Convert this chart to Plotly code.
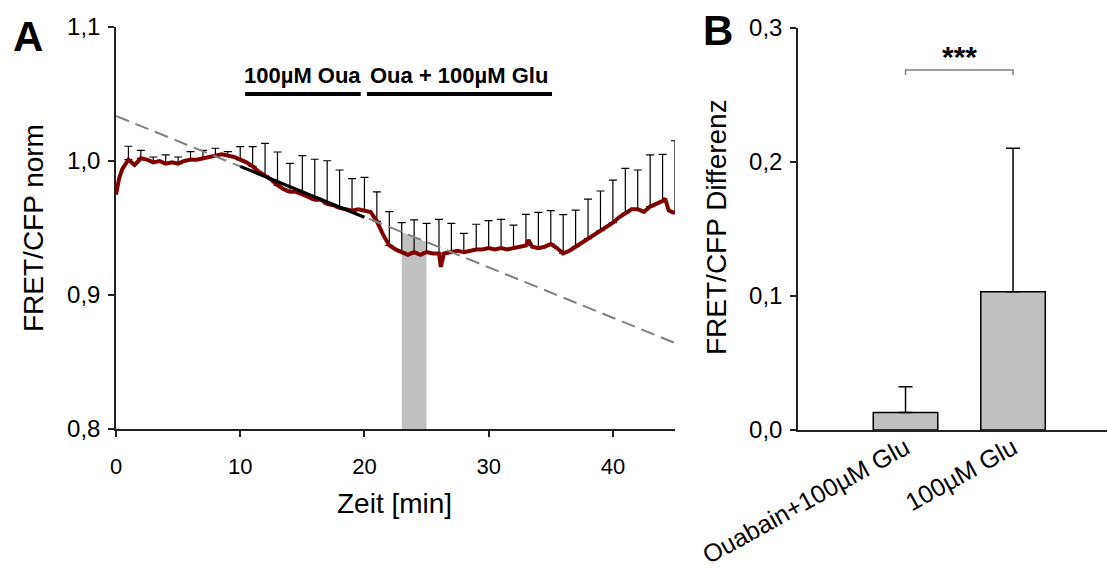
import numpy as np
import plotly.graph_objects as go

# ---------------- Panel A data ----------------
time_min = [0, 0.25, 0.5, 1, 1.5, 2, 2.5, 3, 3.5, 4, 4.5, 5, 5.5, 6, 6.5, 7, 7.5, 8, 8.5, 9, 9.5,
            10, 10.5, 11, 11.5, 12, 12.5, 13, 13.5, 14, 14.5, 15, 15.5, 16, 16.5, 17, 17.5, 18,
            18.5, 19, 19.5, 20, 20.5, 21, 21.5, 22, 22.5, 23, 23.5, 24, 24.5, 25, 25.5, 26,
            26.15, 26.4, 27, 27.5, 28, 28.5, 29, 29.5, 30, 30.5, 31, 31.5, 32, 32.5, 33, 33.2,
            33.5, 34, 34.5, 35, 35.5, 36, 36.5, 37, 37.5, 38, 38.5, 39, 39.5, 40, 40.5, 41,
            41.5, 42, 42.5, 43, 43.5, 44, 44.2, 44.5, 45]
fret_norm = [0.975, 0.987, 0.994, 1.001, 0.997, 1.002, 1.001, 0.999, 1.000, 0.998, 0.999, 0.998,
             1.000, 1.001, 1.001, 1.002, 1.003, 1.004, 1.005, 1.004, 1.003, 1.001, 0.999, 0.996,
             0.992, 0.989, 0.986, 0.982, 0.979, 0.977, 0.977, 0.975, 0.973, 0.971, 0.971, 0.968,
             0.967, 0.965, 0.964, 0.963, 0.964, 0.963, 0.962, 0.955, 0.945, 0.937, 0.934, 0.932,
             0.930, 0.932, 0.930, 0.932, 0.931, 0.931, 0.921, 0.931, 0.932, 0.933, 0.932, 0.933,
             0.934, 0.934, 0.935, 0.934, 0.935, 0.934, 0.935, 0.936, 0.937, 0.941, 0.936, 0.935,
             0.936, 0.938, 0.935, 0.931, 0.933, 0.936, 0.939, 0.942, 0.945, 0.948, 0.951, 0.954,
             0.958, 0.961, 0.964, 0.964, 0.962, 0.966, 0.968, 0.970, 0.972, 0.963, 0.961]

err_time = list(range(1, 46))
err_plus = [0.010, 0.006, 0.004, 0.0065, 0.005, 0.006, 0.006, 0.0055, 0.003, 0.0097,
            0.0147, 0.0242, 0.0247, 0.0213, 0.029, 0.0303, 0.0322, 0.0283, 0.0238, 0.0248,
            0.022, 0.0252, 0.022, 0.024, 0.0215, 0.0255, 0.0215, 0.014, 0.0188, 0.0205,
            0.0215, 0.0172, 0.0232, 0.0267, 0.025, 0.029, 0.0274, 0.0296, 0.0296, 0.0318,
            0.0335, 0.0293, 0.0385, 0.035, 0.0541]

fit_time = [10, 20]
fit_value = [0.996, 0.958]
trend_time = [0, 45]
trend_value = [1.0336, 0.8642]
shade_time = [23, 25]

a_yticks = [0.8, 0.9, 1.0, 1.1]
a_yticklabels = ["0,8", "0,9", "1,0", "1,1"]
a_xticks = [0, 10, 20, 30, 40]

treat_labels = ["100µM Oua", "Oua + 100µM Glu"]
treat_start = [10.4, 20.2]
treat_end = [19.7, 35.1]

# ---------------- Panel B data ----------------
b_categories = ["Ouabain+100µM Glu", "100µM Glu"]
b_values = [0.013, 0.1032]
b_err = [0.0193, 0.107]
b_yticks = [0.0, 0.1, 0.2, 0.3]
b_yticklabels = ["0,0", "0,1", "0,2", "0,3"]

FONT = "Arial, Liberation Sans, sans-serif"
W, H = 1107, 568

fig = go.Figure()

# shaded window (bottom to trend line)
shade_top = list(np.interp(shade_time, trend_time, trend_value))
fig.add_trace(go.Scatter(
    x=[shade_time[0], shade_time[0], shade_time[1], shade_time[1]],
    y=[0.8, shade_top[0], shade_top[1], 0.8],
    fill="toself", fillcolor="#c0c0c0", line=dict(width=0), mode="lines",
    xaxis="x", yaxis="y", hoverinfo="skip", showlegend=False))

# error bars (upper only)
err_mean = list(np.interp(err_time, time_min, fret_norm))
fig.add_trace(go.Scatter(
    x=err_time, y=err_mean, mode="markers", marker=dict(size=0.1, color="rgba(0,0,0,0)"),
    error_y=dict(type="data", symmetric=False, array=err_plus,
                 arrayminus=[0] * len(err_plus), color="black", thickness=1.2, width=4),
    xaxis="x", yaxis="y", showlegend=False))

# mean trace
fig.add_trace(go.Scatter(
    x=time_min, y=fret_norm, mode="lines", line=dict(color="#800000", width=4),
    xaxis="x", yaxis="y", showlegend=False))

# trend (dashed)
fig.add_trace(go.Scatter(
    x=trend_time, y=trend_value, mode="lines",
    line=dict(color="#808080", width=2, dash="14px,7px"),
    xaxis="x", yaxis="y", showlegend=False))

# fit line
fig.add_trace(go.Scatter(
    x=fit_time, y=fit_value, mode="lines", line=dict(color="black", width=3.2),
    xaxis="x", yaxis="y", showlegend=False))

# treatment bars
for lab, s, e in zip(treat_labels, treat_start, treat_end):
    fig.add_trace(go.Scatter(
        x=[s, e], y=[1.05, 1.05], mode="lines", line=dict(color="black", width=4),
        xaxis="x", yaxis="y", showlegend=False, cliponaxis=False))
    fig.add_annotation(x=(s + e) / 2, y=1.0635, xref="x", yref="y", text="<b>%s</b>" % lab,
                       showarrow=False, font=dict(family=FONT, size=22, color="black"),
                       xanchor="center", yanchor="middle")

# ---------------- Panel B ----------------
fig.add_trace(go.Bar(
    x=b_categories, y=b_values, width=0.6,
    marker=dict(color="#c0c0c0", line=dict(color="black", width=1.5)),
    error_y=dict(type="data", symmetric=False, array=b_err, arrayminus=[0, 0],
                 color="black", thickness=1.5, width=7),
    xaxis="x2", yaxis="y2", showlegend=False))

# significance bracket
fig.add_trace(go.Scatter(
    x=[b_categories[0], b_categories[0], b_categories[1], b_categories[1]],
    y=[0.265, 0.2687, 0.2687, 0.265], mode="lines", line=dict(color="#808080", width=1.5),
    xaxis="x2", yaxis="y2", showlegend=False, cliponaxis=False))
fig.add_annotation(x=0.5, y=0.2785, xref="x2", yref="y2", text="<b>***</b>", showarrow=False,
                   font=dict(family=FONT, size=30, color="black"),
                   xanchor="center", yanchor="middle")

axis_common = dict(showline=True, linecolor="#222", linewidth=1.5, ticks="outside",
                   ticklen=6, tickwidth=1.5, tickcolor="#222", showgrid=False, zeroline=False,
                   automargin=False)

fig.update_layout(
    width=W, height=H, margin=dict(l=0, r=0, t=0, b=0, autoexpand=False),
    paper_bgcolor="white", plot_bgcolor="white", showlegend=False,
    xaxis=dict(domain=[116 / W, 675 / W], range=[0, 45], tickvals=a_xticks, anchor="y",
               ticklabelstandoff=11,
               tickfont=dict(family=FONT, size=22, color="black"), **axis_common),
    yaxis=dict(domain=[1 - 429 / H, 1 - 27 / H], range=[0.8, 1.1], tickvals=a_yticks,
               ticktext=a_yticklabels, anchor="x", ticklabelstandoff=3,
               tickfont=dict(family=FONT, size=24, color="black"), **axis_common),
    xaxis2=dict(domain=[798 / W, 1.0], range=[-1, 1.874], anchor="y2", type="category",
                tickangle=-29, ticks="", showline=True, linecolor="#222", linewidth=1.5,
                showgrid=False, zeroline=False, automargin=False, ticklabelstandoff=-8,
                tickfont=dict(family=FONT, size=25, color="black")),
    yaxis2=dict(domain=[1 - 430 / H, 1 - 28 / H], range=[0, 0.3], tickvals=b_yticks,
                ticktext=b_yticklabels, anchor="x2", ticklabelstandoff=3,
                tickfont=dict(family=FONT, size=24, color="black"), **axis_common),
)

# axis titles and panel letters
def paper_text(px, py, txt, size, angle=0):
    fig.add_annotation(x=px / W, y=1 - py / H, xref="paper", yref="paper", text=txt,
                       textangle=angle, showarrow=False, xanchor="center", yanchor="middle",
                       font=dict(family=FONT, size=size, color="black"))

paper_text(33, 228, "FRET/CFP norm", 28, -90)
paper_text(394, 503, "Zeit [min]", 28)
paper_text(716, 227, "FRET/CFP Differenz", 28, -90)
paper_text(28, 36, "<b>A</b>", 42)
paper_text(718, 31, "<b>B</b>", 42)

fig.write_html("out.html")
